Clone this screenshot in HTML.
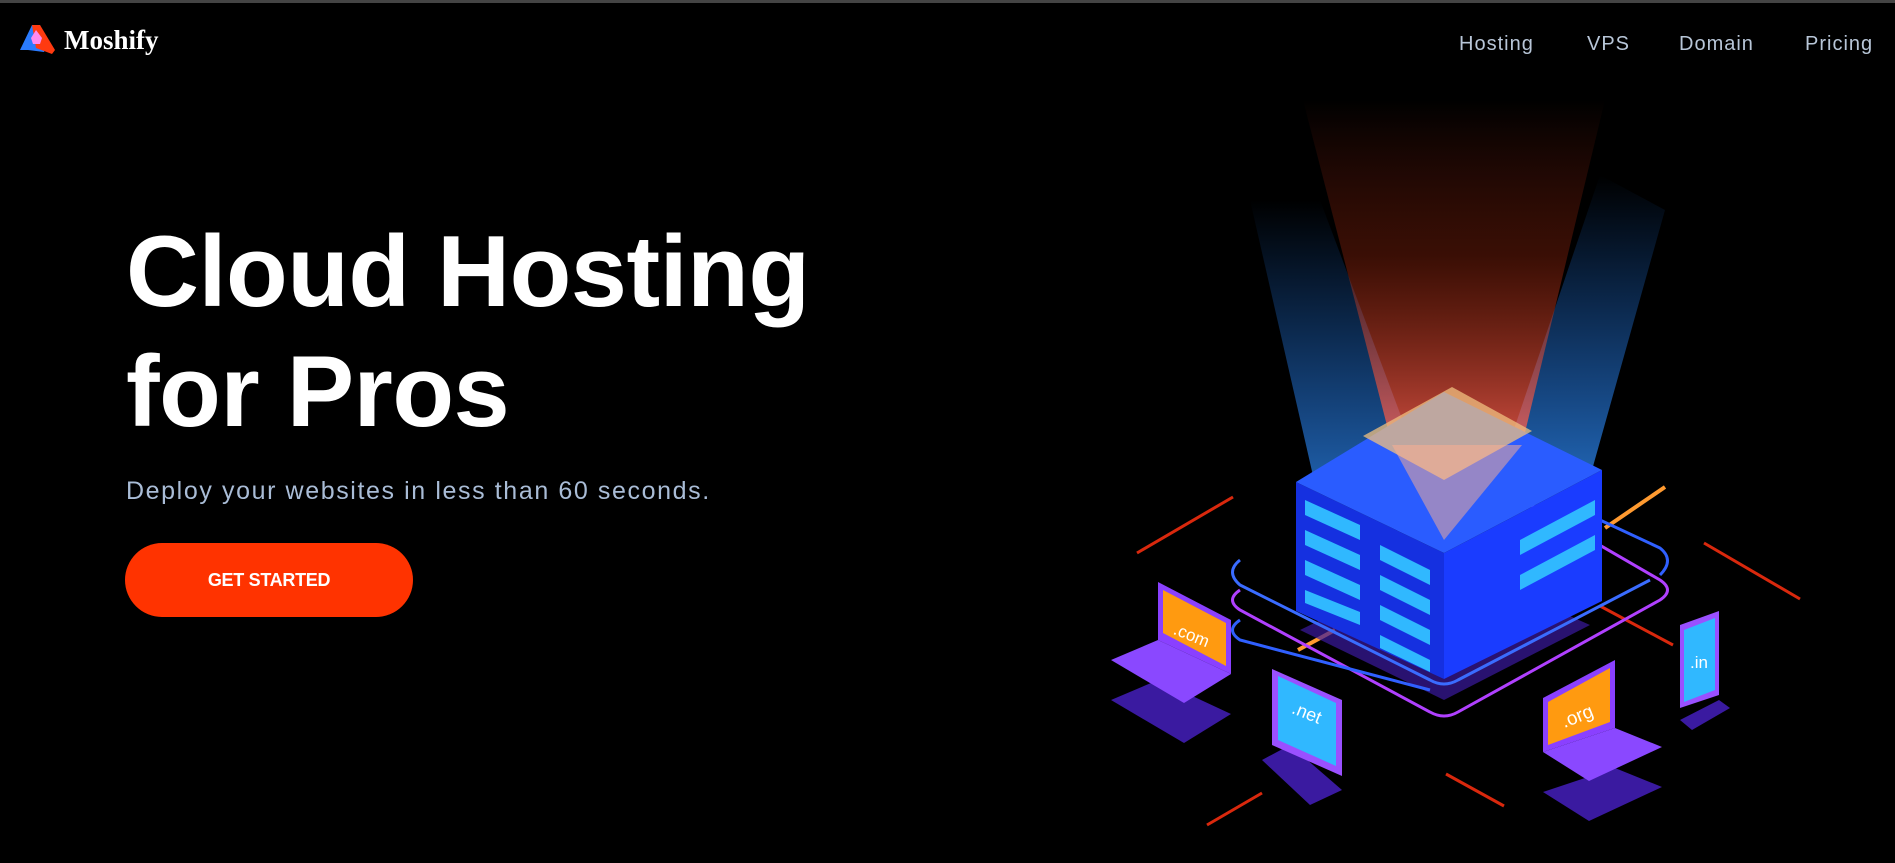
<!DOCTYPE html>
<html><head><meta charset="utf-8"><style>
html,body{margin:0;padding:0;background:#000;width:1895px;height:863px;overflow:hidden;font-family:"Liberation Sans",sans-serif}
.bar{position:absolute;left:0;top:0;width:1895px;height:3px;background:#444}
.brand{position:absolute;left:64px;top:25px;font-family:"Liberation Serif",serif;font-weight:bold;font-size:27px;color:#fff}
.nav{position:absolute;top:33px;font-size:20px;letter-spacing:1px;color:#b8c6d8}
h1{position:absolute;left:126px;top:212px;margin:0;font-size:101px;line-height:120px;font-weight:bold;color:#fff;letter-spacing:-0.5px}
.sub{position:absolute;left:126px;top:477px;font-size:25px;letter-spacing:1.6px;color:#a9bcd6}
.btn{position:absolute;left:125px;top:543px;width:288px;height:74px;border-radius:37px;background:#ff3300;color:#fff;font-weight:bold;font-size:18px;letter-spacing:-0.3px;text-align:center;line-height:74px}
svg{position:absolute;left:0;top:0}
</style></head><body>
<div class="bar"></div>
<svg width="1895" height="863" viewBox="0 0 1895 863">
<defs>
<linearGradient id="rb" x1="0" y1="0" x2="0" y2="1"><stop offset="0" stop-color="#ff4020" stop-opacity="0"/><stop offset="0.45" stop-color="#c03010" stop-opacity="0.3"/><stop offset="1" stop-color="#ff6050" stop-opacity="0.8"/></linearGradient>
<linearGradient id="bb" x1="0" y1="0" x2="0" y2="1"><stop offset="0" stop-color="#2080ff" stop-opacity="0"/><stop offset="1" stop-color="#3090ff" stop-opacity="0.75"/></linearGradient>
</defs>
<polygon points="20,50 32,25 40,25 47,45 44,52 28,50" fill="#2a7bff"/>
<polygon points="32,25 40,25 55,50 52,54 36,48" fill="#ff3a10"/>
<polygon points="31,38 36,30 42,38 40,44 33,44" fill="#ff8af0"/>
<polygon points="1250,200 1320,200 1440,520 1314,480" fill="url(#bb)"/>
<polygon points="1600,175 1665,210 1592,470 1490,500" fill="url(#bb)"/>
<polygon points="1303,100 1605,100 1522,445 1392,445" fill="url(#rb)"/>
<g stroke="#ff3010" stroke-width="3" opacity="0.85">
<line x1="1137" y1="553" x2="1233" y2="497"/><line x1="1704" y1="543" x2="1800" y2="599"/>
<line x1="1600" y1="606" x2="1673" y2="645"/><line x1="1207" y1="825" x2="1262" y2="793"/>
<line x1="1446" y1="774" x2="1504" y2="806"/></g>
<g stroke="#ff9a30" stroke-width="4"><line x1="1605" y1="528" x2="1665" y2="487"/><line x1="1298" y1="650" x2="1335" y2="630"/></g>
<polygon points="1300,630 1444,700 1590,625 1444,560" fill="#3a1aa0" opacity="0.7"/>
<path d="M1240,590 Q1225,600 1240,610 L1430,712 Q1444,720 1458,712 L1660,600 Q1675,590 1660,580 L1470,470" fill="none" stroke="#b040ff" stroke-width="3"/>
<path d="M1240,620 Q1225,630 1240,640 L1430,690 M1660,575 Q1675,560 1660,548 L1600,520" fill="none" stroke="#3060ff" stroke-width="3"/>
<path d="M1240,560 Q1225,572 1240,585 L1430,680 Q1444,688 1458,680 L1650,580" fill="none" stroke="#3a6cff" stroke-width="3"/>
<polygon points="1296,482 1444,553 1444,679 1296,611" fill="#1530e0"/>
<polygon points="1444,553 1602,470 1602,601 1444,679" fill="#1a3cff"/>
<polygon points="1296,482 1444,392 1602,470 1444,553" fill="#2a5cff"/>
<g fill="#30b8ff">
<polygon points="1305,500 1360,525 1360,540 1305,515"/><polygon points="1305,530 1360,555 1360,570 1305,545"/>
<polygon points="1305,560 1360,585 1360,600 1305,575"/><polygon points="1305,590 1360,612 1360,625 1305,603"/>
<polygon points="1380,545 1430,570 1430,585 1380,560"/><polygon points="1380,575 1430,600 1430,615 1380,590"/>
<polygon points="1380,605 1430,630 1430,645 1380,620"/><polygon points="1380,635 1430,660 1430,672 1380,648"/>
<polygon points="1520,540 1595,500 1595,515 1520,555"/><polygon points="1520,575 1595,535 1595,550 1520,590"/>
</g>
<polygon points="1363,436 1452,387 1532,431 1444,480" fill="#f0c080" opacity="0.75"/>
<polygon points="1392,445 1522,445 1444,540" fill="#ffb090" opacity="0.5"/>
<polygon points="1111,700 1158,680 1231,714 1184,743" fill="#3a1aa0"/>
<polygon points="1158,582 1231,620 1231,674 1158,640" fill="#8a40ff"/>
<polygon points="1163,590 1226,623 1226,666 1163,633" fill="#ff9a10"/>
<text x="1175" y="640" font-size="17" fill="#fff" transform="rotate(22 1190 630)">.com</text>
<polygon points="1111,660 1158,640 1231,674 1184,703" fill="#8a48ff"/>
<polygon points="1262,760 1290,745 1342,790 1310,805" fill="#3a1aa0"/>
<polygon points="1272,669 1342,700 1342,776 1272,745" fill="#9a50ff"/>
<polygon points="1278,676 1336,703 1336,766 1278,740" fill="#30b8ff"/>
<text x="1292" y="718" font-size="18" fill="#fff" transform="rotate(22 1305 712)">.net</text>
<polygon points="1543,792 1615,768 1662,787 1589,821" fill="#3a1aa0"/>
<polygon points="1543,698 1615,660 1615,728 1543,752" fill="#8a40ff"/>
<polygon points="1548,702 1610,668 1610,722 1548,745" fill="#ff9a10"/>
<text x="1560" y="722" font-size="19" fill="#fff" transform="rotate(-22 1578 714)">.org</text>
<polygon points="1543,752 1615,728 1662,747 1589,781" fill="#8a48ff"/>
<polygon points="1680,720 1719,700 1730,708 1692,730" fill="#3a1aa0"/>
<polygon points="1680,625 1719,611 1719,695 1680,708" fill="#9a50ff"/>
<polygon points="1684,630 1715,618 1715,690 1684,702" fill="#30b8ff"/>
<text x="1690" y="668" font-size="17" fill="#fff">.in</text>
</svg>
<div class="brand">Moshify</div>
<div class="nav" style="left:1459px">Hosting</div>
<div class="nav" style="left:1587px">VPS</div>
<div class="nav" style="left:1679px">Domain</div>
<div class="nav" style="left:1805px">Pricing</div>
<h1>Cloud Hosting<br>for Pros</h1>
<div class="sub">Deploy your websites in less than 60 seconds.</div>
<div class="btn">GET STARTED</div>
</body></html>
